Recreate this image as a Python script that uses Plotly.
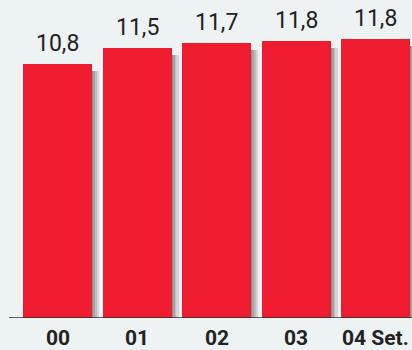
import plotly.graph_objects as go

YEARS = ["00", "01", "02", "03", "04 Set."]
VALUES = [10.8, 11.5, 11.7, 11.8, 11.87]
LABELS = ["10,8", "11,5", "11,7", "11,8", "11,8"]

RED = "#ee1c2e"
BG = "#edf2f2"
FONT = "Liberation Sans Narrow, Roboto, sans-serif"

PX_Y = 23.5          # pixels per unit on y
PX_X = 79.5          # pixels per category
BAR_W = 69 / PX_X
SHADOW_DROP = 7 / PX_Y
SHADES = ["#8c8c8c", "#a4a4a4", "#bcbcbc", "#d4d4d4"]
STRIP = 1.8 / PX_X

x = list(range(len(YEARS)))
fig = go.Figure()

# soft shadow on the right of each bar, a few thin grey strips
for i, col in enumerate(SHADES):
    fig.add_trace(go.Bar(x=x, y=[v - SHADOW_DROP for v in VALUES],
                         offset=BAR_W / 2 + i * STRIP, width=STRIP,
                         marker=dict(color=col, line=dict(width=0)),
                         hoverinfo="skip", showlegend=False))

fig.add_trace(go.Bar(x=x, y=VALUES, offset=-BAR_W / 2, width=BAR_W,
                     marker=dict(color=RED, line=dict(width=0)),
                     hovertemplate="%{y}<extra></extra>", showlegend=False))

for xi, v, lab in zip(x, VALUES, LABELS):
    fig.add_annotation(x=xi, y=v, text=lab, yanchor="bottom", yshift=5,
                       showarrow=False,
                       font=dict(family=FONT, size=23, color="#222"))

for xi, yr in zip(x, YEARS):
    fig.add_annotation(x=xi, y=0, yref="paper", text=f"<b>{yr}</b>",
                       yanchor="top", yshift=-6, showarrow=False,
                       font=dict(family=FONT, size=21, color="#222"))

fig.add_shape(type="line", xref="paper", yref="y", x0=9 / 412, x1=1, y0=0, y1=0,
              line=dict(color="#333", width=1.5))

# partly cut-off heading at the very top
fig.add_annotation(text="EM MESES", xref="paper", yref="paper", x=0.52, y=1.0,
                   yanchor="bottom", yshift=-6, showarrow=False,
                   font=dict(family=FONT, size=20, color="#9a9a9a"))

r0 = -57.5 / PX_X
fig.update_layout(
    width=412, height=350, barmode="overlay", bargap=0,
    paper_bgcolor=BG, plot_bgcolor=BG,
    margin=dict(l=0, r=0, t=0, b=32),
    xaxis=dict(range=[r0, r0 + 412 / PX_X], showticklabels=False,
               showgrid=False, zeroline=False, showline=False, ticks=""),
    yaxis=dict(range=[0, 318 / PX_Y], visible=False, showgrid=False),
)

fig.write_html("out.html", config={"displayModeBar": False},
               post_script="document.body.style.margin='0';")
